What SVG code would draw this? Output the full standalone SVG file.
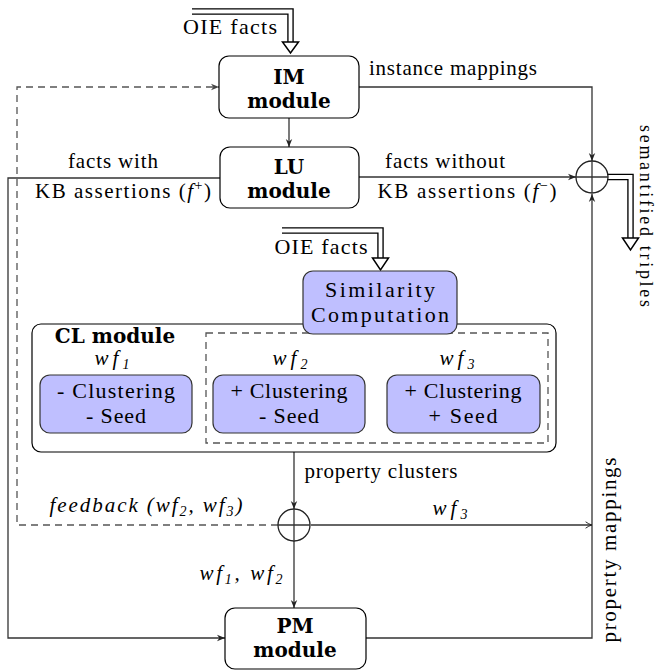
<svg xmlns="http://www.w3.org/2000/svg" width="658" height="671" viewBox="0 0 658 671">
<defs>
<style>
.n{font-family:"Liberation Serif",serif;font-size:22px;text-anchor:middle;fill:#000}
.l{font-family:"Liberation Serif",serif;font-size:21px;text-anchor:middle;fill:#000}
.b{font-family:"DejaVu Serif",serif;font-weight:bold;font-size:20px}
.m{font-style:italic}
.box{fill:#fff;stroke:#000;stroke-width:1.2}
.blue{fill:#bfbfff;stroke:#333;stroke-width:1.2}
.c{fill:none;stroke:#333;stroke-width:1.3}
.d{fill:none;stroke:#555;stroke-width:1.3;stroke-dasharray:7 5}
.dbo{fill:none;stroke:#000;stroke-width:6.5;stroke-linejoin:miter}
.dbi{fill:none;stroke:#fff;stroke-width:3.8;stroke-linejoin:miter}
.ah{fill:#fff;stroke:#000;stroke-width:1.5;stroke-linejoin:miter}
</style>
<marker id="a" viewBox="0 0 10 10" refX="10" refY="5" markerWidth="8" markerHeight="8" markerUnits="userSpaceOnUse" orient="auto">
<path d="M0,1 L10,5 L0,9 L3,5 Z" fill="#222"/>
</marker>
<marker id="ag" viewBox="0 0 10 10" refX="10" refY="5" markerWidth="8" markerHeight="8" markerUnits="userSpaceOnUse" orient="auto">
<path d="M0,1 L10,5 L0,9 L3,5 Z" fill="#444"/>
</marker>
<marker id="o" viewBox="0 0 10 10" refX="9" refY="5" markerWidth="8" markerHeight="8" markerUnits="userSpaceOnUse" orient="auto">
<path d="M1,1 Q5,4 9,5 Q5,6 1,9" fill="none" stroke="#222" stroke-width="1.2"/>
</marker>
</defs>

<g id="connectors">
<path class="c" d="M289,118 V147" marker-end="url(#a)"/>
<path class="c" d="M359,87 H592 V161" marker-end="url(#a)"/>
<path class="c" d="M359,177 H576" marker-end="url(#a)"/>
<path class="c" d="M366,638 H592 V194" marker-end="url(#a)"/>
<path class="c" d="M220,178 H8 V638 H225" marker-end="url(#a)"/>
<path class="c" d="M294,452 V509" marker-end="url(#a)"/>
<path class="c" d="M294,541 V608" marker-end="url(#a)"/>
<path class="c" d="M311,525 H592" marker-end="url(#o)"/>
<path class="d" d="M278,525 H17 V87 H219" marker-end="url(#ag)"/>
<g id="oie-arrow-1">
<path class="dbo" d="M192,11.5 H290.5 V43"/>
<path class="dbi" d="M192,11.5 H290.5 V44"/>
<path class="ah" d="M282.5,42 H298.5 L290.5,53 Z"/>
</g>
<g id="oie-arrow-2">
<path class="dbo" d="M282,230.5 H380.5 V259"/>
<path class="dbi" d="M282,230.5 H380.5 V260"/>
<path class="ah" d="M372.5,258 H388.5 L380.5,270 Z"/>
</g>
<g id="out-arrow">
<path class="dbo" d="M607,177 H630.5 V239"/>
<path class="dbi" d="M607,177 H630.5 V240"/>
<path class="ah" d="M622.5,238 H638.5 L630.5,250 Z"/>
</g>
</g>

<g id="labels">
<text class="n" x="230" y="34" textLength="94">OIE facts</text>
<text class="l" x="453" y="75" textLength="168">instance mappings</text>
<text class="l" x="113" y="168" textLength="90">facts with</text>
<text class="l" x="123" y="198" textLength="176">KB assertions (<tspan class="m">f</tspan><tspan font-size="14" dy="-8">+</tspan><tspan dy="8">)</tspan></text>
<text class="l" x="445" y="168" textLength="120">facts without</text>
<text class="l" x="467" y="198" textLength="179">KB assertions (<tspan class="m">f</tspan><tspan font-size="14" dy="-8">−</tspan><tspan dy="8">)</tspan></text>
<text class="n" x="321" y="254" textLength="93">OIE facts</text>
<text class="l" x="381" y="478" textLength="153">property clusters</text>
<text class="l m" x="146" y="512" textLength="193">feedback (wf<tspan font-size="14" dy="4">2</tspan><tspan dy="-4">, wf</tspan><tspan font-size="14" dy="4">3</tspan><tspan dy="-4">)</tspan></text>
<text class="l m" x="450" y="515" textLength="35">wf<tspan font-size="14" dy="4">3</tspan></text>
<text class="l m" x="241" y="580" textLength="83">wf<tspan font-size="14" dy="4">1</tspan><tspan dy="-4">, wf</tspan><tspan font-size="14" dy="4">2</tspan></text>
<text class="l" transform="translate(616,550) rotate(-90)" textLength="185">property mappings</text>
<text class="l" style="font-size:18px" transform="translate(640,216) rotate(90)" textLength="182">semantified triples</text>
</g>

<g id="IM">
<rect class="box" x="219" y="56" width="140" height="62" rx="10"/>
<text class="n b" x="289" y="84">IM</text>
<text class="n b" x="289" y="108">module</text>
</g>
<g id="LU">
<rect class="box" x="220" y="147" width="139" height="61" rx="10"/>
<text class="n b" x="289" y="174">LU</text>
<text class="n b" x="289" y="198">module</text>
</g>
<g id="sum-top">
<circle cx="592" cy="177" r="16" fill="none" stroke="#222" stroke-width="1.3"/>
<path class="c" d="M576,177 H608 M592,161 V193"/>
</g>
<g id="CL">
<rect class="box" x="32" y="324" width="524" height="128" rx="9"/>
<rect x="206" y="333" width="342" height="110" fill="none" stroke="#555" stroke-width="1.3" stroke-dasharray="7 5"/>
<text class="n b" x="115" y="343">CL module</text>
<text class="l m" x="112" y="365" textLength="35">wf<tspan font-size="14" dy="4">1</tspan></text>
<text class="l m" x="290" y="365" textLength="35">wf<tspan font-size="14" dy="4">2</tspan></text>
<text class="l m" x="457" y="365" textLength="35">wf<tspan font-size="14" dy="4">3</tspan></text>
</g>
<g id="SIM">
<rect class="blue" x="303" y="271" width="154" height="63" rx="10"/>
<text class="n" x="380" y="297" textLength="110">Similarity</text>
<text class="n" x="380" y="322" textLength="138">Computation</text>
</g>
<g id="WF1">
<rect class="blue" x="40" y="375" width="152" height="58" rx="10"/>
<text class="n" x="116" y="398" textLength="118">- Clustering</text>
<text class="n" x="116" y="423" textLength="60">- Seed</text>
</g>
<g id="WF2">
<rect class="blue" x="213" y="375" width="152" height="58" rx="10"/>
<text class="n" x="289" y="398" textLength="117">+ Clustering</text>
<text class="n" x="289" y="423" textLength="60">- Seed</text>
</g>
<g id="WF3">
<rect class="blue" x="387" y="375" width="153" height="58" rx="10"/>
<text class="n" x="463" y="398" textLength="117">+ Clustering</text>
<text class="n" x="463" y="423" textLength="69">+ Seed</text>
</g>
<g id="sum-mid">
<circle cx="294" cy="525" r="16" fill="none" stroke="#222" stroke-width="1.3"/>
<path class="c" d="M278,525 H310 M294,509 V541"/>
</g>
<g id="PM">
<rect class="box" x="225" y="608" width="141" height="61" rx="10"/>
<text class="n b" x="295" y="633">PM</text>
<text class="n b" x="295" y="657">module</text>
</g>
</svg>
